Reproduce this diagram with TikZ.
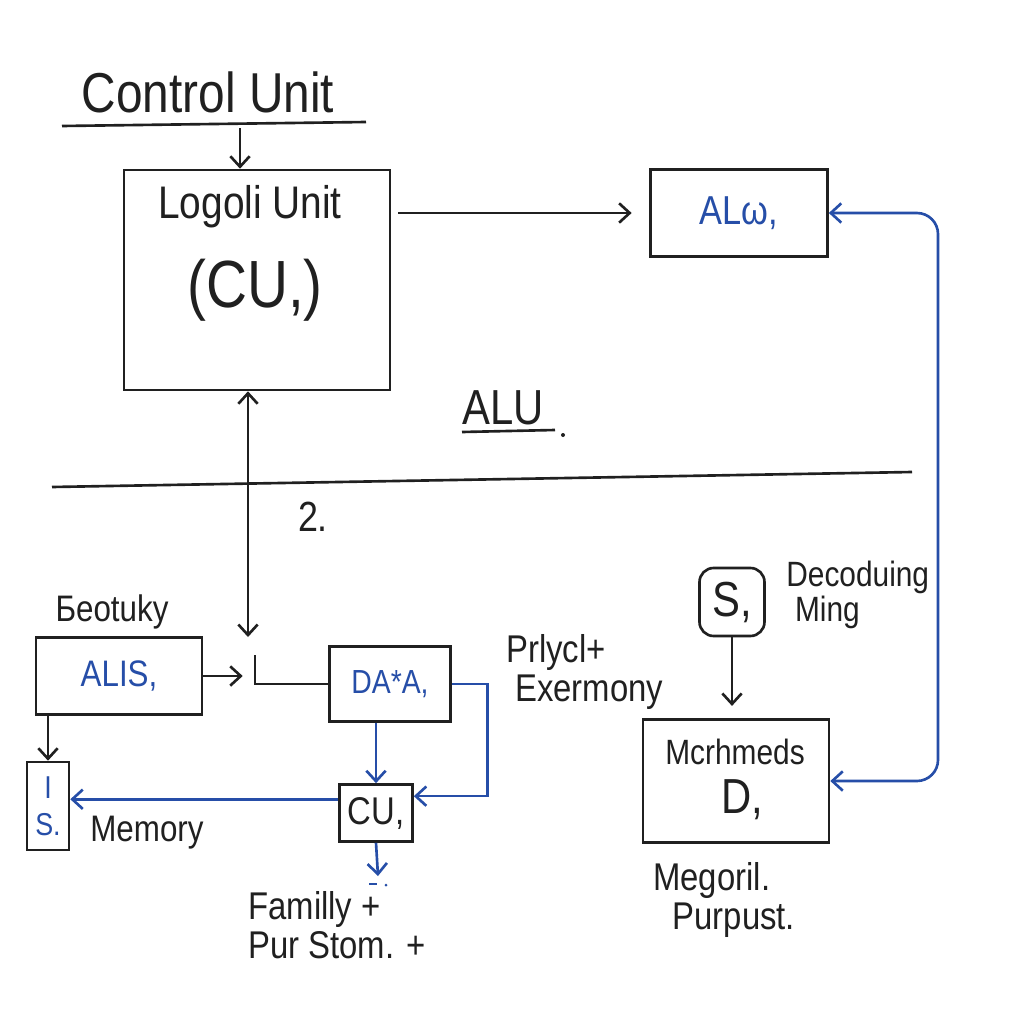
\documentclass[tikz,border=0pt]{standalone}
\usepackage{fontspec}
\setmainfont{Liberation Sans}[FakeStretch=0.85]
\usepackage{xcolor}
\usetikzlibrary{arrows.meta}
\definecolor{ink}{RGB}{32,32,32}
\definecolor{penblue}{RGB}{38,78,168}

\begin{document}
\begin{tikzpicture}[x=0.02cm, y=-0.02cm, line width=1.5pt, color=ink,
        >={Straight Barb[length=6pt, width=11pt]},
        box/.style={draw=ink, rectangle, inner sep=0pt},
        hand/.style={inner sep=0pt},
        sz/.style={font=\fontsize{#1}{#1}\selectfont}]
            \fill[white] (0,0) rectangle (1024,1024);
            \useasboundingbox (0,0) rectangle (1024,1024);

            % top block
            \node[hand, sz=32] (title) at (208,92) {Control Unit};
            \draw (62,126) -- (366,122);
            \coordinate (drop) at (240,128);
            \node[box, minimum width=5.32cm, minimum height=4.4cm] (logic) at (257,280) {};
            \node[hand, sz=26] (logicname) at (250,207) {Logoli Unit};
            \node[hand, sz=38] (logictag) at (255,290) {(CU,)};
            \draw[->] (drop) -- (drop |- logic.north);

            \node[box, sz=23, text=penblue, minimum width=3.54cm, minimum height=1.74cm] (alu) at (739,213) {ALω,};
            \draw[->, shorten <=4pt, shorten >=10pt] (logic.east |- alu.west) -- (alu.west);

            \node[hand, sz=28] (aluhead) at (503,408) {ALU};
            \draw (462,432) -- (555,430);
            \fill (563,435) circle (2);

            \draw (52,487) -- (912,472);
            \node[hand, sz=24] (two) at (313,517) {2.};

            \coordinate (tap) at (248,637);
            \draw[<->] (logic.south -| tap) -- (tap);

            % left block
            \node[hand, sz=21] (feo) at (112,612) {Бeotuky};
            \node[box, sz=21, text=penblue, minimum width=3.32cm, minimum height=1.54cm] (alis) at (119,676) {ALIS,};
            \node[box, sz=18, text=penblue, align=center, minimum width=0.84cm, minimum height=1.76cm] (regs) at (48,806) {I\\[3pt]S.};
            \node[hand, sz=21] (memlbl) at (147,833) {Memory};
            \coordinate (joint) at (255,655);
            \node[box, sz=19, text=penblue, minimum width=2.42cm, minimum height=1.5cm] (data) at (390,684) {DA*A,};
            \node[box, sz=22, minimum width=1.46cm, minimum height=1.14cm] (cu) at (376,813) {CU,};
            \coordinate (outlet) at (378,876);

            \draw (joint) |- (data.west);
            \draw[->, shorten >=7pt] (alis.east) -- (alis.east -| joint);
            \draw[->] (alis.south -| regs.north) -- (regs.north);
            \draw[->, penblue] (data.south -| cu.north) -- (cu.north);
            \draw[->, penblue] (data.east) -- ++(36,0) |- (cu.24);
            \draw[->, penblue] (cu.160) -- (cu.160 -| regs.east);
            \draw[->, penblue] (cu.south) -- (outlet);
            \draw[penblue, line width=1pt] (369,884) -- (377,884);
            \fill[penblue] (386,885) circle (1.5);
            \node[hand, sz=22, align=left, anchor=west] (family) at (247,925) {Familly +\\Pur Stom. +};

            % right block
            \node[hand, sz=22, align=left, anchor=west] (prly) at (505,672) {Prlycl+\\\hspace{5pt}Exermony};
            \node[box, sz=28, rounded corners=8pt, minimum width=1.3cm, minimum height=1.36cm] (sel) at (732,602) {S,};
            \node[hand, sz=20, align=left, anchor=west] (deco) at (785,595) {Decoduing\\\hspace{5pt}Ming};
            \node[box, minimum width=3.72cm, minimum height=2.46cm] (mach) at (736,781) {};
            \node[hand, sz=20] (machname) at (735,752) {Mcrhmeds};
            \node[hand, sz=28] (machtag) at (742,800) {D,};
            \node[hand, sz=22, align=left, anchor=west] (purpose) at (652,900) {Megoril.\\\hspace{11pt}Purpust.};
            \draw[->, shorten >=7pt] (sel.south) -- (sel.south |- mach.north);

            \coordinate (bus) at (938,500);
            \draw[<->, penblue, rounded corners=12pt] (alu.east) -| (bus) |- (mach.east);
        \end{tikzpicture}
\end{document}
